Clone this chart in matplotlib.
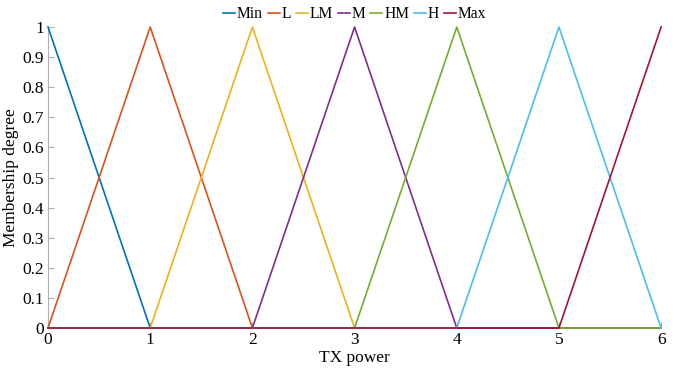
import matplotlib
matplotlib.use("Agg")
import matplotlib.pyplot as plt

plt.rcParams["font.family"] = ["Liberation Serif", "DejaVu Serif"]
plt.rcParams["font.size"] = 12.5

# membership functions: breakpoints on x and degree at each
x_pts = [0, 1, 2, 3, 4, 5, 6]
nomes = ["Min", "L", "LM", "M", "HM", "H", "Max"]
graus = [
    [1, 0, 0, 0, 0, 0, 0],
    [0, 1, 0, 0, 0, 0, 0],
    [0, 0, 1, 0, 0, 0, 0],
    [0, 0, 0, 1, 0, 0, 0],
    [0, 0, 0, 0, 1, 0, 0],
    [0, 0, 0, 0, 0, 1, 0],
    [0, 0, 0, 0, 0, 0, 1],
]
cores = ["#0072BD", "#D95319", "#EDB120", "#7E2F8E", "#77AC30", "#4DBEEE", "#A2142F"]

fig = plt.figure(figsize=(6.93, 3.68), dpi=100)
ax = fig.add_axes([0.0693, 0.1087, 0.8847, 0.8179])

for nome, g, c in zip(nomes, graus, cores):
    ax.plot(x_pts, g, color=c, lw=1.2, label=nome, clip_on=False, zorder=3)

ax.set_xlim(0, 6)
ax.set_ylim(0, 1)
ax.set_xticks(range(7))
ax.set_yticks([i / 10 for i in range(11)])
ax.set_yticklabels(["0"] + [f"{i/10:g}" for i in range(1, 10)] + ["1"])
ax.set_xlabel("TX power", labelpad=1)
ax.set_ylabel("Membership degree", labelpad=2)

for s in ["top", "right"]:
    ax.spines[s].set_visible(False)
for s in ["left", "bottom"]:
    ax.spines[s].set_color("#b0b0b0")
    ax.spines[s].set_linewidth(0.8)
    ax.spines[s].set_zorder(1)
ax.tick_params(direction="in", length=4, color="#b0b0b0", labelcolor="black", pad=3)

ax.legend(loc="lower center", bbox_to_anchor=(0.5, 1.01), ncol=7, frameon=False,
          fontsize=11.2, handlelength=0.78, handletextpad=0.12, columnspacing=0.3,
          borderaxespad=0, borderpad=0.1)

fig.savefig("out.png", dpi=100)
